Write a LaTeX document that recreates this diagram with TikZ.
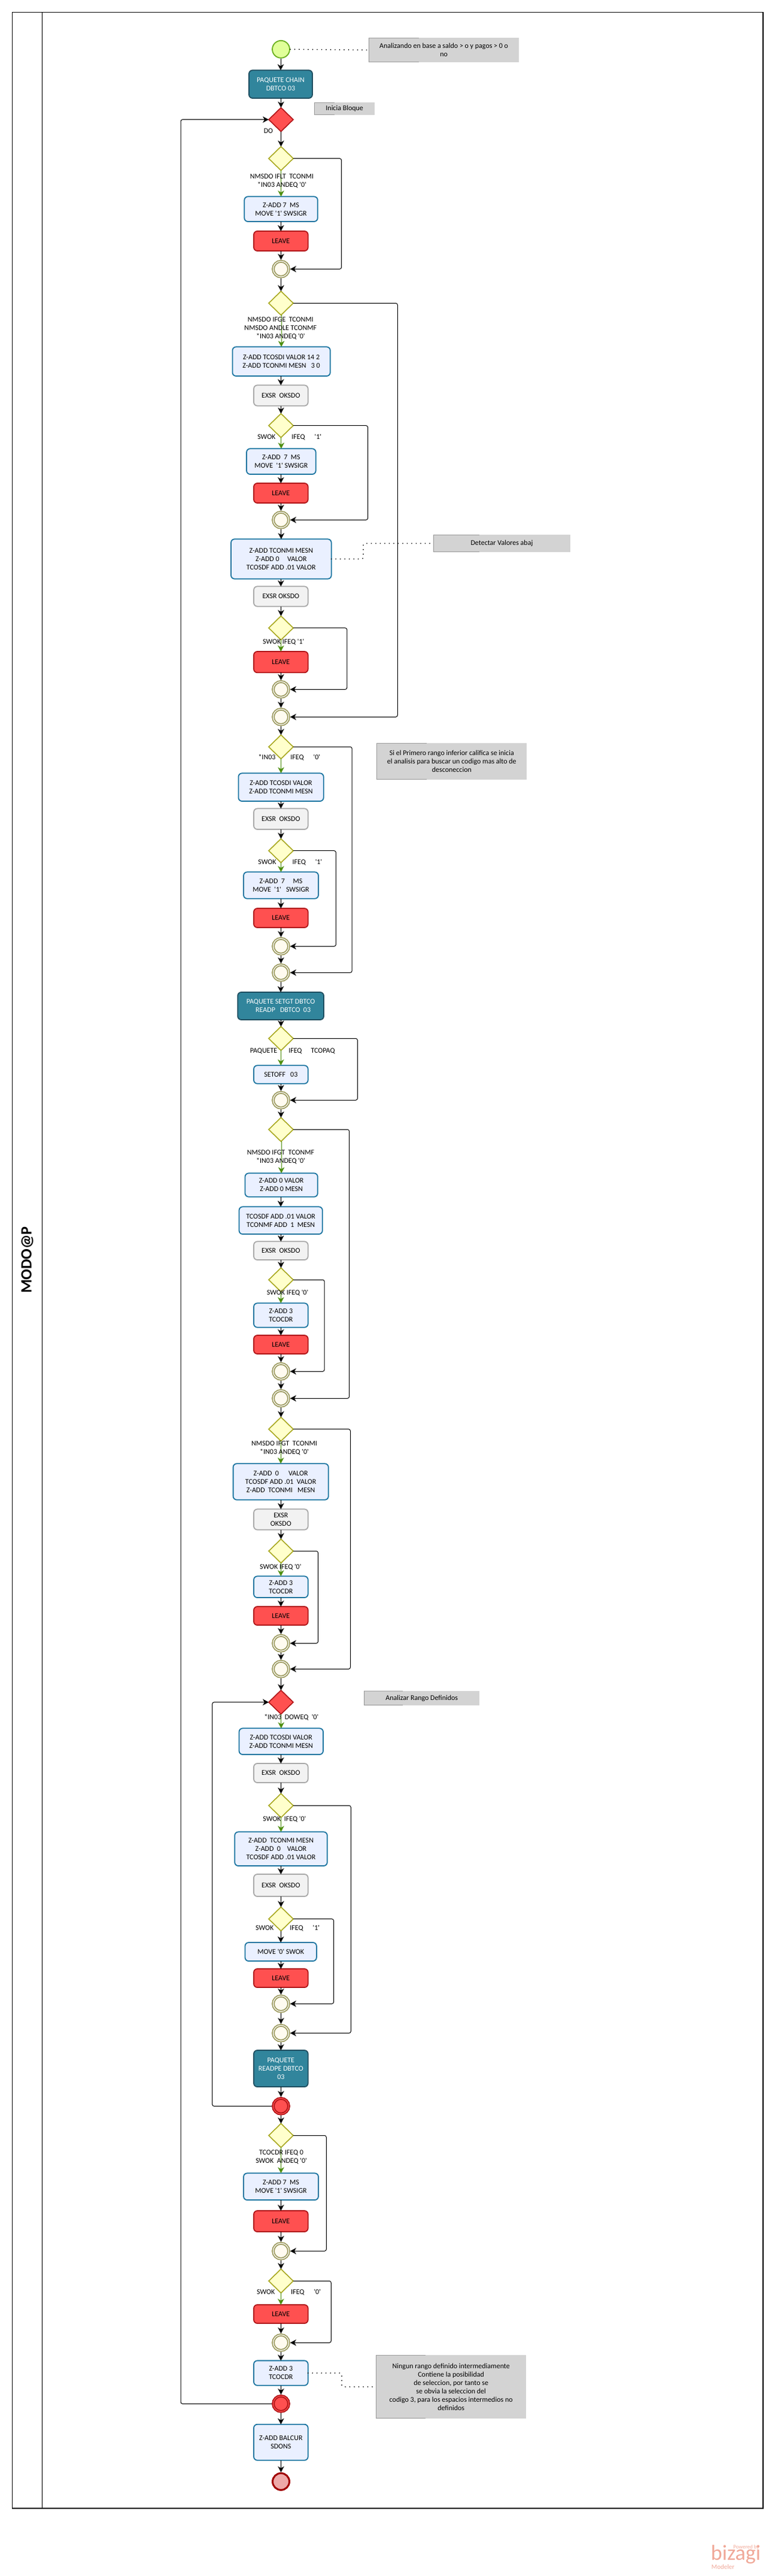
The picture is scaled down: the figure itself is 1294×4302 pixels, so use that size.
\documentclass[tikz,border=0pt]{standalone}
\usepackage{fontspec}
\usetikzlibrary{shapes.geometric,arrows.meta}
\newfontfamily\cf{Carlito}
\definecolor{taskfill}{HTML}{EAF0FF}
\definecolor{taskline}{HTML}{1A74A0}
\definecolor{exfill}{HTML}{F2F2F2}
\definecolor{exline}{HTML}{A8A8A8}
\definecolor{lvfill}{HTML}{FF5050}
\definecolor{lvline}{HTML}{B01518}
\definecolor{pkfill}{HTML}{31859C}
\definecolor{pkline}{HTML}{1F4E60}
\definecolor{gwfill}{HTML}{FFFFCC}
\definecolor{gwline}{HTML}{A8A820}
\definecolor{ringline}{HTML}{9C9A5E}
\definecolor{ringfill}{HTML}{FFFBF0}
\definecolor{greenflow}{HTML}{4F8F10}
\definecolor{notefill}{HTML}{D3D3D3}
\definecolor{noteline}{HTML}{999999}
\definecolor{wm}{HTML}{F0A898}
\definecolor{startline}{HTML}{6AB01F}
\definecolor{startfill}{HTML}{E0FF99}
\definecolor{endline}{HTML}{A00000}
\definecolor{endfill}{HTML}{EEA9A9}
\tikzset{
  every node/.style={font=\cf\fontsize{12}{14}\selectfont,align=center,inner sep=0pt,outer sep=0pt},
  boxbase/.style={rectangle,rounded corners=6pt,line width=1.8pt},
  task/.style={boxbase,draw=taskline,fill=taskfill},
  exsr/.style={boxbase,draw=exline,fill=exfill},
  leave/.style={boxbase,draw=lvline,fill=lvfill},
  pack/.style={boxbase,draw=pkline,fill=pkfill,text=white},
  gate/.style={diamond,aspect=1,minimum width=41pt,minimum height=40pt,draw=gwline,fill=gwfill,line width=1.6pt},
  redgate/.style={diamond,aspect=1,minimum width=41pt,minimum height=40pt,draw=lvline,fill=lvfill,line width=1.6pt},
  ring/.style={circle,minimum size=26pt,draw=ringline,fill=ringfill,line width=1.8pt,double=white,double distance=1.2pt,outer sep=2.4pt},
  redring/.style={circle,minimum size=26pt,draw=lvline,fill=lvfill,line width=1.8pt,double=lvfill,double distance=1.2pt,outer sep=2.4pt},
  startev/.style={circle,minimum size=29pt,draw=startline,fill=startfill,line width=1.8pt,outer sep=1pt},
  endev/.style={circle,minimum size=28pt,draw=endline,fill=endfill,line width=3pt,outer sep=1.5pt},
  flow/.style={draw=black,line width=1pt,rounded corners=3pt,-{Stealth[length=10pt,width=10.5pt,inset=3pt]}},
  yes/.style={draw=greenflow,line width=1pt,-{Stealth[length=10pt,width=10.5pt,inset=3pt,fill=greenflow]}},
  assoc/.style={draw=black,line width=1.9pt,line cap=round,dash pattern=on 0pt off 7.5pt,rounded corners=3pt},
  notebox/.style={rectangle,fill=notefill},
  noteedge/.style={draw=noteline,line width=1pt},
  lane/.style={draw=black,line width=1.2pt},
  lanelabel/.style={font=\cf\bfseries\fontsize{26}{30}\selectfont,rotate=90},
  wmark/.style={text=wm}
}
\newcommand\BX[7]{%
  \pgfmathsetmacro\bxcx{(#3+#5)/2}\pgfmathsetmacro\bxcy{(#4+#6)/2}%
  \pgfmathsetmacro\bxw{#5-#3}\pgfmathsetmacro\bxh{#6-#4}%
  \node[#1,minimum width=\bxw pt,minimum height=\bxh pt] (#2) at (\bxcx,\bxcy) {#7};}
\newcommand\FL[2]{\draw[flow] (#2.north |- #1.south) -- (#2.north);}
\newcommand\GL[2]{\draw[yes] (#2.north |- #1.south) -- (#2.north);}
\newcommand\BR[3]{\coordinate (k#1) at (#3,0);
  \draw[flow] (#1.east) -- (#1.east -| k#1) -- (#2.east -| k#1) -- (#2.east);}
\newcommand\BK[3]{\coordinate (k#1) at (#3,0);
  \draw[flow] (#1.west) -- (#1.west -| k#1) -- (#2.west -| k#1) -- (#2.west);}
\newcommand\NT[7]{%
  \BX{notebox}{#1}{#2}{#3}{#4}{#5}{#7}%
  \draw[noteedge] (#6,#3) -- (#1.north west) -- (#1.south west) -- (#6,#5);}
\begin{document}
\begin{tikzpicture}[x=1pt,y=-1pt]
\useasboundingbox (0,0) rectangle (1294,4302);
% lane
\node[rectangle,lane,minimum width=1254.5pt,minimum height=4168.7pt] (pool) at (647.75,2104.65) {};
\coordinate (lanetop) at (70.5,20.3);
\draw[lane] (lanetop) -- (lanetop |- pool.south);
\node[lanelabel] (lanetitle) at (45.5,2104) {MODO@P};
% nodes
\node[startev] (start) at (469.5,82.3) {};
\BX{pack}{p1}{416}{117.3}{522}{164}{PAQUETE CHAIN\\DBTCO 03}
\node[redgate] (rd1) at (469.5,199.7) {};
\node[gate] (d2) at (469.5,264.7) {};
\BX{task}{b1}{408.3}{328.3}{530.8}{370}{Z-ADD 7~ MS\\MOVE '1' SWSIGR}
\BX{leave}{lv1}{424}{386}{514.7}{419}{LEAVE}
\node[ring] (c1) at (469.5,449.3) {};
\node[gate] (d3) at (469.5,506.3) {};
\BX{task}{b2}{388.4}{579.3}{551.8}{628}{Z-ADD TCOSDI VALOR 14 2\\Z-ADD TCONMI MESN~~ 3 0}
\BX{exsr}{e1}{424}{643.3}{514.7}{677.7}{EXSR~ OKSDO}
\node[gate] (d4) at (469.5,710.7) {};
\BX{task}{b3}{412}{749.3}{527.7}{792}{Z-ADD~ 7~ MS\\MOVE~ '1' SWSIGR}
\BX{leave}{lv2}{424}{807}{514.7}{840}{LEAVE}
\node[ring] (c2) at (469.5,868.3) {};
\BX{task}{b4}{386}{900.3}{553.7}{966.7}{Z-ADD TCONMI MESN\\Z-ADD 0~~~~ VALOR\\TCOSDF ADD .01 VALOR}
\BX{exsr}{e2}{424}{979.3}{514.7}{1012.7}{EXSR OKSDO}
\node[gate] (d5) at (469.5,1048.7) {};
\BX{leave}{lv3}{424}{1088}{514.7}{1123.3}{LEAVE}
\node[ring] (c3) at (469.5,1151.3) {};
\node[ring] (c4) at (469.5,1197.3) {};
\node[gate] (d6) at (469.5,1247.3) {};
\BX{task}{b5}{398.4}{1291.3}{540.7}{1338}{Z-ADD TCOSDI VALOR\\Z-ADD TCONMI MESN}
\BX{exsr}{e3}{424}{1350.3}{514.7}{1385}{EXSR~ OKSDO}
\node[gate] (d7) at (469.5,1420.7) {};
\BX{task}{b6}{407}{1456.3}{532}{1500.7}{Z-ADD~ 7~~~~ MS\\MOVE~ '1'~~ SWSIGR}
\BX{leave}{lv4}{424}{1517}{514.7}{1549}{LEAVE}
\node[ring] (c5) at (469.5,1580.3) {};
\node[ring] (c6) at (469.5,1624.3) {};
\BX{pack}{p2}{397.2}{1657}{541}{1703}{PAQUETE SETGT DBTCO\\~~~READP~~ DBTCO~ 03}
\node[gate] (d8) at (469.5,1734.3) {};
\BX{task}{b7}{424}{1779.3}{514.7}{1809.7}{SETOFF~~ 03}
\node[ring] (c7) at (469.5,1837.3) {};
\node[gate] (d9) at (469.5,1886.3) {};
\BX{task}{b8}{409.5}{1959.3}{530.8}{1998.7}{Z-ADD 0 VALOR\\Z-ADD 0 MESN}
\BX{task}{b9}{399.5}{2015.3}{538.8}{2061}{TCOSDF ADD .01 VALOR\\TCONMF ADD~ 1~ MESN}
\BX{exsr}{e4}{424}{2073.3}{514.7}{2104}{EXSR~ OKSDO}
\node[gate] (d10) at (469.5,2137.3) {};
\BX{task}{b10}{424}{2176.3}{514.7}{2216.7}{Z-ADD 3\\TCOCDR}
\BX{leave}{lv5}{424}{2230}{514.7}{2261}{LEAVE}
\node[ring] (c8) at (469.5,2290.3) {};
\node[ring] (c9) at (469.5,2335.3) {};
\node[gate] (d11) at (469.5,2386.7) {};
\BX{task}{b11}{389.6}{2444.3}{548.8}{2504.7}{Z-ADD~ 0~~~~~ VALOR\\TCOSDF ADD .01~ VALOR\\Z-ADD~ TCONMI~~ MESN}
\BX{exsr}{e5}{424}{2520.3}{514.7}{2554.7}{EXSR\\OKSDO}
\node[gate] (d12) at (469.5,2590.3) {};
\BX{task}{b12}{424}{2632.3}{514.7}{2668}{Z-ADD 3\\TCOCDR}
\BX{leave}{lv6}{424}{2683}{514.7}{2714}{LEAVE}
\node[ring] (c10) at (469.5,2744.3) {};
\node[ring] (c11) at (469.5,2787.3) {};
\node[redgate] (rd2) at (469.5,2842.7) {};
\BX{task}{b13}{399.5}{2886.3}{540}{2930}{Z-ADD TCOSDI VALOR\\Z-ADD TCONMI MESN}
\BX{exsr}{e6}{424}{2945}{514.7}{2977}{EXSR~ OKSDO}
\node[gate] (d13) at (469.5,3015.3) {};
\BX{task}{b14}{392.2}{3059.3}{546.8}{3116}{Z-ADD~ TCONMI MESN\\Z-ADD~ 0~~~ VALOR\\TCOSDF ADD .01 VALOR}
\BX{exsr}{e7}{424}{3130}{514.7}{3167}{EXSR~ OKSDO}
\node[gate] (d14) at (469.5,3204.7) {};
\BX{task}{b15}{409.5}{3244}{528.9}{3275}{MOVE '0' SWOK}
\BX{leave}{lv7}{424}{3288}{514.7}{3319}{LEAVE}
\node[ring] (c12) at (469.5,3346.3) {};
\node[ring] (c13) at (469.5,3395.3) {};
\BX{pack}{p3}{424}{3424}{514.7}{3485}{PAQUETE\\READPE DBTCO\\03}
\node[redring] (rc1) at (469.5,3517.3) {};
\node[gate] (d15) at (469.5,3566.3) {};
\BX{task}{b16}{407}{3629.3}{532}{3674}{Z-ADD 7~ MS\\MOVE '1' SWSIGR}
\BX{leave}{lv8}{424}{3692}{514.7}{3727}{LEAVE}
\node[ring] (c14) at (469.5,3759.3) {};
\node[gate] (d16) at (469.5,3809.3) {};
\BX{leave}{lv9}{424}{3849}{514.7}{3880}{LEAVE}
\node[ring] (c15) at (469.5,3912.3) {};
\BX{task}{b17}{424}{3942.3}{514.7}{3983.7}{Z-ADD 3\\TCOCDR}
\node[redring] (rc2) at (469.5,4014.3) {};
\BX{task}{b18}{424}{4048.7}{514.7}{4108.7}{Z-ADD BALCUR\\SDONS}
\node[endev] (finish) at (469.5,4144.3) {};
% notes
\NT{n1}{616.5}{63.3}{866.8}{103.7}{700}{Analizando en base a saldo > o y pagos > 0 o\\no}
\NT{n2}{525.4}{171.3}{626}{191.7}{559}{Inicia Bloque}
\NT{n3}{724.3}{893.3}{952.7}{921.7}{800.7}{Detectar Valores abaj}
\NT{n4}{629.5}{1241.3}{880.2}{1301.7}{712.5}{Si el Primero rango inferior califica se inicia\\el analisis para buscar un codigo mas alto de\\desconeccion}
\NT{n5}{608.5}{2824}{801}{2847.7}{673}{Analizar Rango Definidos}
\NT{n6}{628.4}{3933.3}{879}{4038.7}{711}{Ningun rango definido intermediamente\\Contiene la posibilidad\\de seleccion, por tanto se\\se obvia la seleccion del\\codigo 3, para los espacios intermedios no\\definidos}
% connectors
\FL{start}{p1}\FL{p1}{rd1}\FL{rd1}{d2}\GL{d2}{b1}\FL{b1}{lv1}\FL{lv1}{c1}\BR{d2}{c1}{570.6}
\FL{c1}{d3}\GL{d3}{b2}\FL{b2}{e1}\FL{e1}{d4}\GL{d4}{b3}\FL{b3}{lv2}\FL{lv2}{c2}\BR{d4}{c2}{614.6}
\FL{c2}{b4}\FL{b4}{e2}\FL{e2}{d5}\GL{d5}{lv3}\FL{lv3}{c3}\BR{d5}{c3}{579.8}
\FL{c3}{c4}\BR{d3}{c4}{664.3}
\FL{c4}{d6}\GL{d6}{b5}\FL{b5}{e3}\FL{e3}{d7}\GL{d7}{b6}\FL{b6}{lv4}\FL{lv4}{c5}\BR{d7}{c5}{561.4}
\FL{c5}{c6}\BR{d6}{c6}{588.2}
\FL{c6}{p2}\FL{p2}{d8}\GL{d8}{b7}\FL{b7}{c7}\BR{d8}{c7}{597.4}
\FL{c7}{d9}\GL{d9}{b8}\FL{b8}{b9}\FL{b9}{e4}\FL{e4}{d10}\GL{d10}{b10}\FL{b10}{lv5}\FL{lv5}{c8}\BR{d10}{c8}{542.2}
\FL{c8}{c9}\BR{d9}{c9}{583.6}
\FL{c9}{d11}\GL{d11}{b11}\FL{b11}{e5}\FL{e5}{d12}\GL{d12}{b12}\FL{b12}{lv6}\FL{lv6}{c10}\BR{d12}{c10}{531.5}
\FL{c10}{c11}\BR{d11}{c11}{585.5}
\FL{c11}{rd2}\GL{rd2}{b13}\FL{b13}{e6}\FL{e6}{d13}\GL{d13}{b14}\FL{b14}{e7}\FL{e7}{d14}\FL{d14}{b15}\FL{b15}{lv7}\FL{lv7}{c12}\BR{d14}{c12}{557.6}
\FL{c12}{c13}\BR{d13}{c13}{586.3}
\FL{c13}{p3}\FL{p3}{rc1}\FL{rc1}{d15}\BK{rc1}{rd2}{354.7}
\GL{d15}{b16}\FL{b16}{lv8}\FL{lv8}{c14}\BR{d15}{c14}{545.3}
\FL{c14}{d16}\GL{d16}{lv9}\FL{lv9}{c15}\BR{d16}{c15}{553.3}
\FL{c15}{b17}\FL{b17}{rc2}\FL{rc2}{b18}\FL{b18}{finish}\BK{rc2}{rd1}{302}
% dotted associations
\draw[assoc] (start.east) -- (n1.west);
\coordinate (ka) at (607,0);
\draw[assoc] (b4.east) -- (b4.east -| ka) -- (n3.west -| ka) -- (n3.west);
\coordinate (kb) at (571,0);
\draw[assoc] (b17.east) -- (b17.east -| kb) -- (n6.west -| kb) -- (n6.west);
% labels
\node (l1) at (448.5,218.7) {DO};
\node (l2) at (471,302) {NMSDO IFLT~ TCONMI\\*IN03 ANDEQ '0'};
\node (l3) at (468.8,548) {NMSDO IFGE~ TCONMI\\NMSDO ANDLE TCONMF\\*IN03 ANDEQ '0'};
\node (l4) at (483.7,730) {SWOK\hspace{27pt}IFEQ\hspace{16pt}'1'};
\node (l5) at (473.7,1072) {SWOK IFEQ '1'};
\node (l6) at (483.3,1265) {*IN03\hspace{25pt}IFEQ\hspace{16pt}'0'};
\node (l7) at (484.8,1440) {SWOK\hspace{27pt}IFEQ\hspace{16pt}'1'};
\node (l8) at (488.7,1755) {PAQUETE\hspace{19pt}IFEQ\hspace{15pt}TCOPAQ};
\node (l9) at (469,1932) {NMSDO IFGT~ TCONMF\\*IN03 ANDEQ '0'};
\node (l10) at (480.6,2159) {SWOK IFEQ '0'};
\node (l11) at (475,2418) {NMSDO IFGT~ TCONMI\\*IN03 ANDEQ '0'};
\node (l12) at (468.8,2617) {SWOK IFEQ '0'};
\node (l13) at (486.8,2868) {*IN03~~DOWEQ~~'0'};
\node (l14) at (475.3,3038) {SWOK~~IFEQ '0'};
\node (l15) at (480.6,3220) {SWOK\hspace{27pt}IFEQ\hspace{16pt}'1'};
\node (l16) at (470,3602) {TCOCDR IFEQ 0\\SWOK~ ANDEQ '0'};
\node (l17) at (482.5,3828) {SWOK\hspace{27pt}IFEQ\hspace{16pt}'0'};
% watermark
\node[wmark,font=\cf\fontsize{9}{10}\selectfont] (w1) at (1247,4254) {Powered by};
\node[wmark,font=\cf\fontsize{36}{36}\selectfont] (w2) at (1229.5,4266) {bizagi};
\node[wmark,font=\cf\fontsize{11}{12}\selectfont] (w3) at (1208,4287) {Modeler};
\end{tikzpicture}
\end{document}
